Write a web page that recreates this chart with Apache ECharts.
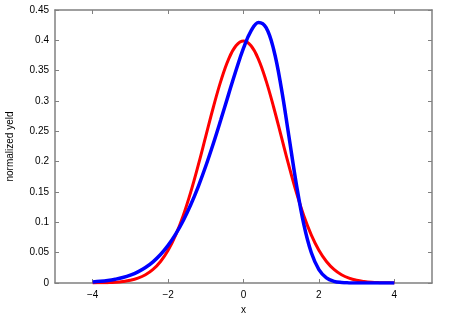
<!DOCTYPE html>
<html>
<head>
<meta charset="utf-8">
<script src="https://cdn.jsdelivr.net/npm/echarts@6/dist/echarts.min.js"></script>
<style>html,body{margin:0;padding:0;background:#fff;}#c{width:450px;height:315px;}</style>
</head>
<body>
<div id="c"></div>
<script>
const xValues = [-4,-3.8,-3.6,-3.4,-3.2,-3,-2.8,-2.6,-2.4,-2.2,-2,-1.8,-1.6,-1.4,-1.2,-1,-0.8,-0.6,-0.4,-0.2,0,0.2,0.4,0.6,0.8,1,1.2,1.4,1.6,1.8,2,2.2,2.4,2.6,2.8,3,3.2,3.4,3.6,3.8,4];
const redValues = [0.0001,0.0003,0.0006,0.0012,0.0024,0.0044,0.0079,0.0136,0.0224,0.0355,0.0540,0.0790,0.1109,0.1497,0.1942,0.2420,0.2897,0.3332,0.3683,0.3910,0.3989,0.3910,0.3683,0.3332,0.2897,0.2420,0.1942,0.1497,0.1109,0.0790,0.0540,0.0355,0.0224,0.0136,0.0079,0.0044,0.0024,0.0012,0.0006,0.0003,0.0001];
const blueValues = [0.0018,0.0027,0.0041,0.0062,0.0090,0.0130,0.0184,0.0255,0.0349,0.0469,0.0620,0.0805,0.1027,0.1289,0.1590,0.1928,0.2299,0.2694,0.3101,0.3503,0.3870,0.4157,0.4296,0.4211,0.3849,0.3225,0.2436,0.1637,0.0967,0.0498,0.0222,0.0085,0.0028,0.0008,0.0002,0.00004,0,0,0,0,0];
const xTicks = [-4,-2,0,2,4];
const yTicks = [0,0.05,0.1,0.15,0.2,0.25,0.3,0.35,0.4,0.45];

const axisGray = '#808080';
const font = 'Liberation Sans, Arial, sans-serif';
const chart = echarts.init(document.getElementById('c'), null, {renderer:'canvas'});
const pair = (xs, ys) => xs.map((x,i)=>[x, ys[i]]);
const baseX = {
  type:'value', min:-5, max:5, interval:1,
  axisLine:{show:true, onZero:false, lineStyle:{color:axisGray, width:1.5}},
  axisTick:{show:true, inside:true, length:4, customValues:xTicks, lineStyle:{color:axisGray}},
  splitLine:{show:false},
  axisLabel:{show:false}
};
const baseY = {
  type:'value', min:0, max:0.45, interval:0.05,
  axisLine:{show:true, onZero:false, lineStyle:{color:axisGray, width:1.5}},
  axisTick:{show:true, inside:true, length:4, customValues:yTicks, lineStyle:{color:axisGray}},
  splitLine:{show:false},
  axisLabel:{show:false}
};
chart.setOption({
  animation:false,
  backgroundColor:'#fff',
  grid:{left:55, right:18, top:10, bottom:32, containLabel:false, outerBoundsMode:'none'},
  xAxis:[
    Object.assign({}, baseX, {
      position:'bottom',
      axisLabel:{show:true, color:'#000', fontSize:10, fontFamily:font, margin:7, customValues:xTicks,
        formatter:v=> String(v).replace('-','\u2212')},
      name:'x', nameLocation:'middle', nameGap:19,
      nameTextStyle:{color:'#000', fontSize:10, fontFamily:font}
    }),
    Object.assign({}, baseX, {position:'top'})
  ],
  yAxis:[
    Object.assign({}, baseY, {
      position:'left',
      axisLabel:{show:true, color:'#000', fontSize:10, fontFamily:font, margin:6, customValues:yTicks,
        formatter:v=>String(+v.toFixed(2))},
      name:'normalized yeld', nameLocation:'middle', nameGap:40,
      nameTextStyle:{color:'#000', fontSize:10, fontFamily:font}
    }),
    Object.assign({}, baseY, {position:'right'})
  ],
  series:[
    {type:'line', xAxisIndex:0, yAxisIndex:0, data:pair(xValues, redValues), smooth:0.4, showSymbol:false,
     lineStyle:{color:'#ff0000', width:3}, itemStyle:{color:'#ff0000'}, z:2},
    {type:'line', xAxisIndex:0, yAxisIndex:0, data:pair(xValues, blueValues), smooth:0.4, showSymbol:false,
     lineStyle:{color:'#0000ff', width:3.5}, itemStyle:{color:'#0000ff'}, z:3}
  ]
});
</script>
</body>
</html>
